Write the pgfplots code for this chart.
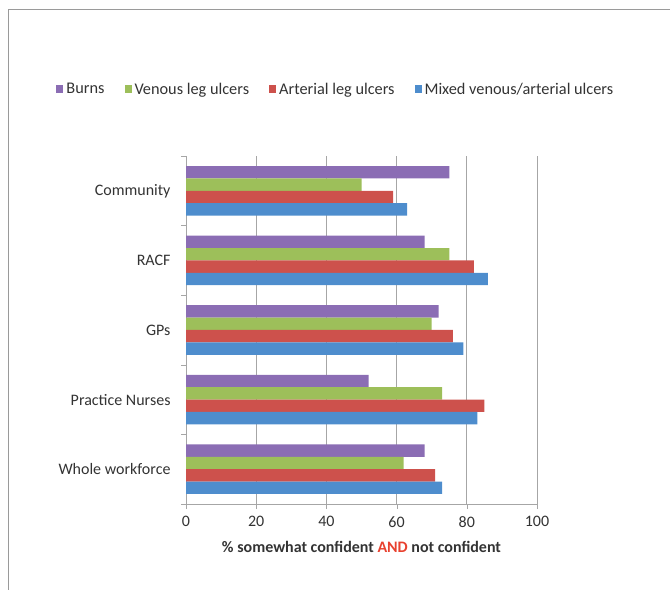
\documentclass[border=0pt]{standalone}
\usepackage{pgfplots}
\pgfplotsset{compat=1.18}
\usepackage{fontspec}
\setmainfont{Carlito}
\definecolor{cBurns}{HTML}{8B6DB4}
\definecolor{cVenous}{HTML}{9DBF5A}
\definecolor{cArterial}{HTML}{CD514C}
\definecolor{cMixed}{HTML}{4E8DCD}
\definecolor{gridgray}{HTML}{A6A6A6}
\definecolor{framegray}{HTML}{9A9A9A}
\definecolor{andred}{HTML}{E8412F}

\begin{document}
\fontsize{16bp}{19bp}\selectfont
\begin{tikzpicture}[x=1bp,y=1bp]
\begin{axis}[
  at={(186bp,86bp)}, anchor=south west,
  scale only axis, width=351bp, height=348bp,
  xbar, bar width=0.178,
  xmin=0, xmax=100,
  ymin=0.5, ymax=5.5,
  xtick={0,20,40,60,80,100},
  ytick={1,2,3,4,5},
  yticklabels={Whole workforce,Practice Nurses,GPs,RACF,Community},
  extra y ticks={0.5,1.5,2.5,3.5,4.5,5.5},
  extra y tick labels={},
  extra y tick style={major tick length=5bp, tick align=outside, ytick style={draw=gridgray}, grid=none},
  ytick style={draw=none},
  xtick style={draw=gridgray},
  major tick length=5bp, tick align=outside,
  xmajorgrids, grid style={draw=gridgray, line width=0.8bp},
  axis x line*=bottom, axis y line*=left,
  axis line style={draw=gridgray, line width=0.8bp, -},
  every tick label/.append style={font=\fontsize{16bp}{19bp}\selectfont, text=black!80},
  /pgf/number format/assume math mode=true,
  yticklabel style={xshift=-5bp},
  xticklabel style={yshift=-2bp},
  xlabel={\textbf{\% somewhat confident \textcolor{andred}{AND} not confident}},
  xlabel style={font=\fontsize{16bp}{19bp}\selectfont, text=black!80, yshift=-3bp},
  legend columns=4,
  legend style={at={(0.427,1.19)}, anchor=center, draw=none, fill=none,
    font=\fontsize{16.3bp}{19bp}\selectfont, text=black!80,
    /tikz/every odd column/.append style={column sep=1bp},
    /tikz/every even column/.append style={column sep=18bp}},
  legend image code/.code={\fill[#1,draw=none] (0bp,-3bp) rectangle (7bp,5bp);},
  legend cell align=left,
]
% Burns sits at the top of each group, mixed ulcers at the bottom
\addplot[fill=cBurns, draw=none, bar shift=0.267] coordinates
  {(68,1) (52,2) (72,3) (68,4) (75,5)};
\addplot[fill=cVenous, draw=none, bar shift=0.089] coordinates
  {(62,1) (73,2) (70,3) (75,4) (50,5)};
\addplot[fill=cArterial, draw=none, bar shift=-0.089] coordinates
  {(71,1) (85,2) (76,3) (82,4) (59,5)};
\addplot[fill=cMixed, draw=none, bar shift=-0.267] coordinates
  {(73,1) (83,2) (79,3) (86,4) (63,5)};
\legend{Burns, Venous leg ulcers, Arterial leg ulcers, Mixed venous/arterial ulcers}
\end{axis}
\draw[framegray, line width=1.2bp] (8.5bp,0bp) -- (8.5bp,580.5bp) -- (670bp,580.5bp);
\pgfresetboundingbox
\path[use as bounding box] (0bp,0bp) rectangle (670bp,590bp);
\end{tikzpicture}
\end{document}
